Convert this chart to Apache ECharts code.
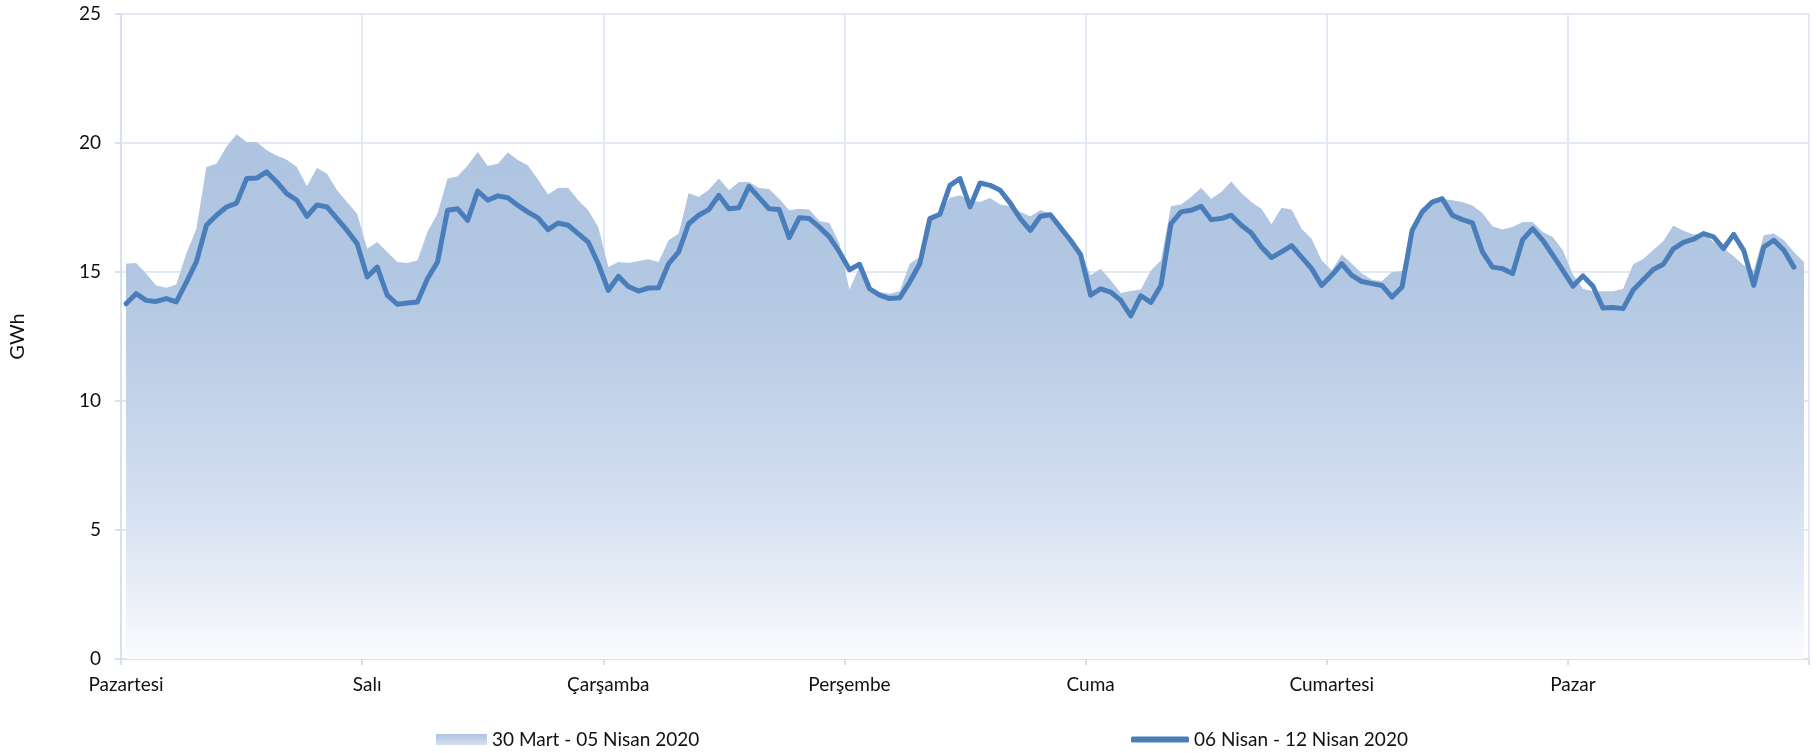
<!DOCTYPE html>
<html>
<head>
<meta charset="utf-8">
<script src="https://cdn.jsdelivr.net/npm/echarts@6/dist/echarts.min.js"></script>
<style>
html,body{margin:0;padding:0;background:#fff;}
#chart{width:1817px;height:753px;}
</style>
</head>
<body>
<div id="chart"></div>
<script>
// ---- data ----
const days = ['Pazartesi', 'Salı', 'Çarşamba', 'Perşembe', 'Cuma', 'Cumartesi', 'Pazar'];
const hours = ['00','01','02','03','04','05','06','07','08','09','10','11','12','13','14','15','16','17','18','19','20','21','22','23'];
const yTicks = [0, 5, 10, 15, 20, 25];
const seriesNames = ['30 Mart - 05 Nisan 2020', '06 Nisan - 12 Nisan 2020'];

// previous week (area), GWh per hour
const prevWeek = [
  15.32,15.35,14.94,14.48,14.39,14.52,15.71,16.68,19.07,19.2,19.85,20.34,20.04,20.04,19.72,19.52,19.35,19.07,18.32,19.03,18.81,18.17,17.71,17.26,
  15.9,16.16,15.78,15.39,15.35,15.45,16.55,17.26,18.62,18.71,19.13,19.65,19.11,19.2,19.63,19.34,19.13,18.59,18.0,18.26,18.27,17.78,17.39,16.74,
  15.19,15.39,15.35,15.43,15.49,15.39,16.23,16.49,18.06,17.91,18.19,18.62,18.17,18.49,18.49,18.26,18.22,17.84,17.39,17.45,17.42,16.98,16.9,16.1,
  14.32,15.2,14.42,14.22,14.16,14.26,15.32,15.58,17.13,17.26,17.88,17.97,17.78,17.71,17.87,17.62,17.55,17.33,17.16,17.39,17.29,16.74,16.23,15.78,
  14.87,15.13,14.68,14.19,14.26,14.32,15.06,15.45,17.55,17.62,17.91,18.27,17.84,18.1,18.51,18.06,17.71,17.45,16.85,17.49,17.42,16.68,16.29,15.45,
  15.06,15.68,15.32,14.94,14.7,14.65,15.0,15.04,16.68,17.39,17.78,17.84,17.78,17.71,17.58,17.29,16.77,16.65,16.74,16.94,16.94,16.55,16.36,15.84,
  14.9,14.35,14.25,14.25,14.25,14.35,15.3,15.5,15.85,16.2,16.8,16.6,16.45,16.49,16.16,15.91,15.61,15.26,15.07,16.42,16.49,16.23,15.78,15.39
];

// current week (line), GWh per hour
const thisWeek = [
  13.77,14.16,13.9,13.86,13.97,13.84,14.6,15.39,16.81,17.2,17.52,17.67,18.62,18.64,18.88,18.49,18.04,17.78,17.16,17.6,17.52,17.07,16.61,16.1,
  14.81,15.19,14.1,13.75,13.8,13.84,14.74,15.39,17.39,17.45,17.0,18.14,17.78,17.95,17.88,17.58,17.32,17.1,16.64,16.9,16.81,16.49,16.16,15.32,
  14.29,14.83,14.44,14.26,14.38,14.39,15.32,15.78,16.87,17.2,17.42,17.97,17.45,17.49,18.32,17.88,17.45,17.42,16.33,17.1,17.07,16.74,16.36,15.78,
  15.09,15.3,14.35,14.1,13.97,14.0,14.61,15.32,17.07,17.24,18.36,18.62,17.52,18.45,18.36,18.17,17.67,17.07,16.61,17.16,17.22,16.72,16.23,15.68,
  14.1,14.35,14.22,13.9,13.3,14.08,13.82,14.48,16.87,17.33,17.39,17.55,17.03,17.07,17.2,16.81,16.51,15.97,15.56,15.78,16.02,15.58,15.13,14.48,
  14.87,15.32,14.87,14.63,14.55,14.48,14.03,14.42,16.61,17.33,17.71,17.84,17.2,17.03,16.9,15.78,15.19,15.13,14.94,16.25,16.68,16.23,15.65,15.06,
  14.45,14.85,14.45,13.6,13.62,13.58,14.3,14.7,15.1,15.3,15.9,16.15,16.27,16.49,16.36,15.91,16.46,15.84,14.48,15.97,16.23,15.84,15.19
];

// ---- build categories ----
const categories = [];
days.forEach(d => hours.forEach(h => categories.push(d + ' ' + h + ':00')));

const gridColor = '#e2e9f4';
const areaGrad = new echarts.graphic.LinearGradient(0, 0, 0, 1, [
  {offset: 0, color: '#aec4e0'},
  {offset: 0.28, color: '#b2c7e2'},
  {offset: 0.51, color: '#c3d3ea'},
  {offset: 0.75, color: '#d9e3f2'},
  {offset: 0.9, color: '#edf2f9'},
  {offset: 1, color: '#fbfcfe'}
]);
const legendGrad = new echarts.graphic.LinearGradient(0, 0, 0, 1, [
  {offset: 0, color: '#adc3e0'},
  {offset: 1, color: '#d6e1f1'}
]);

const FONT = 'Lato, "Open Sans", sans-serif';
const chart = echarts.init(document.getElementById('chart'), null, {renderer: 'canvas'});
chart.setOption({
  backgroundColor: '#ffffff',
  animation: false,
  textStyle: {fontFamily: FONT},
  grid: {left: 120, right: 8, top: 14, bottom: 94, containLabel: false},
  legend: [
    {
      left: 431, top: 725, itemWidth: 51, itemHeight: 11, itemGap: 6,
      textStyle: {fontSize: 19, color: '#111', fontFamily: FONT},
      data: [{name: seriesNames[0], icon: 'rect', itemStyle: {color: legendGrad}}]
    },
    {
      left: 1126, top: 725, itemWidth: 58, itemHeight: 6, itemGap: 4,
      textStyle: {fontSize: 19, color: '#111', fontFamily: FONT},
      data: [{name: seriesNames[1], icon: 'roundRect', itemStyle: {color: '#4a7ebb'}}]
    }
  ],
  xAxis: {
    type: 'category',
    data: categories,
    boundaryGap: true,
    axisLine: {show: true, lineStyle: {color: '#d6e0ee', width: 2}},
    axisTick: {show: true, interval: 23, length: 6, lineStyle: {color: '#d6e0ee', width: 2}},
    axisLabel: {
      interval: 23, margin: 16, fontSize: 19, color: '#111', fontFamily: FONT,
      formatter: v => v.split(' ')[0]
    },
    splitLine: {show: true, interval: 23, lineStyle: {color: gridColor, width: 2}}
  },
  yAxis: {
    type: 'value',
    min: yTicks[0], max: yTicks[yTicks.length - 1], interval: 5,
    name: 'GWh', nameLocation: 'middle', nameGap: 93, nameRotate: 90,
    nameTextStyle: {fontSize: 20, color: '#111', fontFamily: FONT},
    axisLine: {show: true, lineStyle: {color: '#d6e0ee', width: 2}},
    axisTick: {show: true, length: 6, lineStyle: {color: '#d6e0ee', width: 2}},
    axisLabel: {fontSize: 19, color: '#111', margin: 20, fontFamily: FONT},
    splitLine: {show: true, lineStyle: {color: gridColor, width: 2}}
  },
  series: [
    {
      name: seriesNames[0],
      type: 'line',
      data: prevWeek,
      symbol: 'none',
      lineStyle: {width: 0, color: '#aec4e0'},
      itemStyle: {color: '#aec4e0'},
      areaStyle: {color: areaGrad, opacity: 1},
      z: 2
    },
    {
      name: seriesNames[1],
      type: 'line',
      data: thisWeek,
      symbol: 'none',
      lineStyle: {width: 5, color: '#4a7ebb', cap: 'round', join: 'round'},
      itemStyle: {color: '#4a7ebb'},
      z: 3
    }
  ]
});
</script>
</body>
</html>
